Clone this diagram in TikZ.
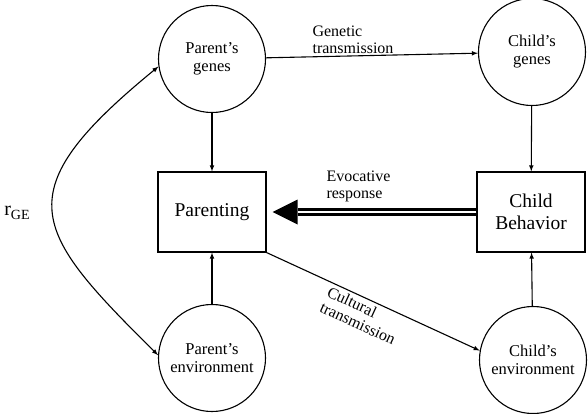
\documentclass[tikz,border=0pt]{standalone}
\usepackage{fontspec}
\setmainfont{Liberation Serif}
\usepackage{tikz}
\usetikzlibrary{calc,arrows,positioning}
\tikzstyle{vertex}=[draw,circle,minimum size=107pt,inner sep=0pt,align=center,font=\fontsize{16.5}{18}\selectfont]

\begin{document}
\begin{tikzpicture}[
  x=1pt,y=-1pt,
  line width=1.1pt,
  >=latex,
  myrect/.style={
    draw,
    rectangle,
    minimum width=108pt,
    minimum height=80pt,
    align=center,
    font=\fontsize{19.5}{22}\selectfont
    },
  mylabel/.style={
    align=left,
    inner sep=0pt,
    font=\fontsize{16}{17}\selectfont
    }
]
\useasboundingbox (0,0) rectangle (588,413);

\node [vertex] (pg) at (212,59) {Parent's\\genes};
\node [vertex] (cg) at (532,52) {Child's\\genes};
\node [myrect] (par) at (212,212) {Parenting};
\node [myrect] (cb) at (531,212) {Child\\Behavior};
\node [vertex] (pe) at (212,358) {Parent's\\environment};
\node [vertex] (ce) at (533,360) {Child's\\environment};

\draw [->] (pg) -- (cg);
\node [mylabel, anchor=south west] (gen) at (312,54) {Genetic\\transmission};

\draw [->] (pg) -- (par);
\draw [->] (cg) -- (cb);
\draw [->] (pe) -- (par);
\draw [->] (ce) -- (cb);

\coordinate (head) at ($(par.east)+(31,0)$);
\draw [line width=3pt, double=white, double distance=2pt] (cb.west) -- (head);
\fill (par.east)+(6,0) -- ($(head)+(0,-12.5)$) -- ($(head)+(0,12.5)$) -- cycle;
\node [mylabel, anchor=south west] (evo) at (326,202) {Evocative\\response};

\draw [->] (par.south east) -- node [sloped, below, mylabel, align=left, inner sep=3pt, pos=0.48] (cult) {Cultural\\transmission} (ce.170);

\draw [<->] (pg.188) .. controls (4,193) and (32,230) .. (pe.177);
\node (rge) at (17,213) {\fontsize{20}{22}\selectfont r\raisebox{-3.5pt}{\fontsize{14}{16}\selectfont GE}};

\end{tikzpicture}
\end{document}
